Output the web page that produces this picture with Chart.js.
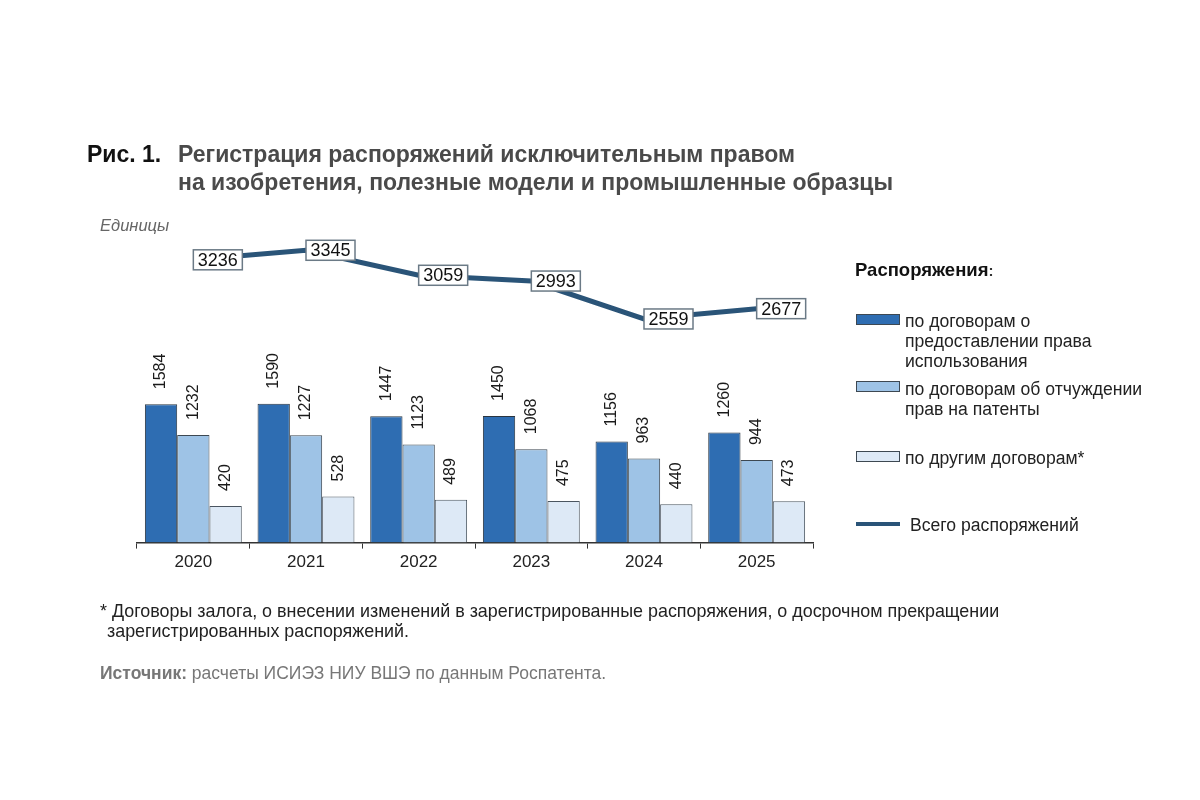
<!DOCTYPE html>
<html>
<head>
<meta charset="utf-8">
<script src="https://cdn.jsdelivr.net/npm/chart.js@4.4.1/dist/chart.umd.min.js"></script>
<style>
  body { margin:0; background:#fff; font-family:"Liberation Sans", Arial, sans-serif; }
  #wrap { position:relative; width:1200px; height:800px; overflow:hidden; }
  #myChart { position:absolute; left:0; top:0; }
  .t { position:absolute; white-space:nowrap; }
  .title { font-weight:bold; font-size:23px; color:#4a4a4a; }
  .sw { position:absolute; width:42px; height:9px; border:1px solid #3d4852; }
  .leg { position:absolute; font-size:17.6px; color:#222; line-height:20px; white-space:nowrap; }
</style>
</head>
<body>
<div id="wrap">
  <canvas id="myChart" width="1200" height="800"></canvas>

  <div class="t title" style="left:87px;top:141px;color:#111;">Рис. 1.</div>
  <div class="t title" style="left:178px;top:141px;">Регистрация распоряжений исключительным правом</div>
  <div class="t title" style="left:178px;top:169px;">на изобретения, полезные модели и промышленные образцы</div>
  <div class="t" style="left:100px;top:216px;font-size:16.5px;font-style:italic;color:#666;">Единицы</div>

  <div class="t" style="left:855px;top:259px;font-size:18.5px;font-weight:bold;color:#111;">Распоряжения<span style="font-size:15px;color:#333;">:</span></div>
  <div class="sw" style="left:856px;top:314px;background:#2e6db2;"></div>
  <div class="leg" style="left:905px;top:311px;">по договорам о<br>предоставлении права<br>использования</div>
  <div class="sw" style="left:856px;top:381px;background:#9ec3e6;"></div>
  <div class="leg" style="left:905px;top:379px;">по договорам об отчуждении<br>прав на патенты</div>
  <div class="sw" style="left:856px;top:451px;background:#dde9f6;"></div>
  <div class="leg" style="left:905px;top:448px;">по другим договорам*</div>
  <div style="position:absolute;left:856px;top:522px;width:44px;height:4px;background:#2a5478;"></div>
  <div class="leg" style="left:910px;top:515px;">Всего распоряжений</div>

  <div class="t" style="left:100px;top:601px;font-size:17.9px;color:#222;">* Договоры залога, о внесении изменений в зарегистрированные распоряжения, о досрочном прекращении</div>
  <div class="t" style="left:107px;top:621px;font-size:17.9px;color:#222;">зарегистрированных распоряжений.</div>
  <div class="t" style="left:100px;top:663px;font-size:17.5px;color:#777;"><b>Источник:</b> расчеты ИСИЭЗ НИУ ВШЭ по данным Роспатента.</div>
</div>
<script>
var years = ['2020', '2021', '2022', '2023', '2024', '2025'];
var useRights = [1584, 1590, 1447, 1450, 1156, 1260];
var patentSale = [1232, 1227, 1123, 1068, 963, 944];
var otherDeals = [420, 528, 489, 475, 440, 473];
var totalDeals = [3236, 3345, 3059, 2993, 2559, 2677];

// подписи над столбцами (повернутые) и рамки у линии
var labelsPlugin = {
	id: 'labelsPlugin',
	afterDatasetsDraw: function(chart) {
		var ctx = chart.ctx;
		ctx.save();
		for (var d = 0; d < 3; d++) {
			var meta = chart.getDatasetMeta(d);
			meta.data.forEach(function(bar, i) {
				ctx.save();
				ctx.translate(bar.x, bar.y - 15);
				ctx.rotate(-Math.PI / 2);
				ctx.font = '16px "Liberation Sans", Arial, sans-serif';
				ctx.fillStyle = '#1a1a1a';
				ctx.textAlign = 'left';
				ctx.textBaseline = 'middle';
				ctx.fillText(String(chart.data.datasets[d].data[i]), 0, 0);
				ctx.restore();
			});
		}
		var lm = chart.getDatasetMeta(3);
		lm.data.forEach(function(pt, i) {
			var txt = String(totalDeals[i]);
			var x = pt.x, y = pt.y;
			ctx.fillStyle = '#fff';
			ctx.fillRect(x, y - 10, 49, 20);
			ctx.strokeStyle = '#6b7a86';
			ctx.lineWidth = 1.5;
			ctx.strokeRect(x, y - 10, 49, 20);
			ctx.font = '18px "Liberation Sans", Arial, sans-serif';
			ctx.fillStyle = '#111';
			ctx.textAlign = 'center';
			ctx.textBaseline = 'middle';
			ctx.fillText(txt, x + 24.5, y + 1);
		});
		ctx.restore();
	}
};

var myChart = document.getElementById('myChart').getContext('2d');
var chart = new Chart(myChart, {
	type: 'bar',
	data: {
		labels: years,
		datasets: [
			{
				label: 'по договорам о предоставлении права использования',
				data: useRights,
				backgroundColor: '#2e6db2',
				borderColor: '#2a3540',
				borderWidth: 1
			},
			{
				label: 'по договорам об отчуждении прав на патенты',
				data: patentSale,
				backgroundColor: '#9ec3e6',
				borderColor: '#3d4852',
				borderWidth: 1
			},
			{
				label: 'по другим договорам*',
				data: otherDeals,
				backgroundColor: '#dde9f6',
				borderColor: '#4a5560',
				borderWidth: 1
			},
			{
				type: 'line',
				label: 'Всего распоряжений',
				data: totalDeals,
				borderColor: '#2a5478',
				borderWidth: 5,
				pointRadius: 0,
				tension: 0,
				fill: false
			}
		]
	},
	plugins: [labelsPlugin],
	options: {
		responsive: false,
		animation: false,
		devicePixelRatio: 1,
		layout: { padding: { left: 137, right: 387, top: 228, bottom: 223 } },
		plugins: { legend: { display: false }, tooltip: { enabled: false } },
		datasets: { bar: { categoryPercentage: 0.86, barPercentage: 1.0 } },
		scales: {
			x: {
				grid: { display: true, drawOnChartArea: false, drawTicks: true, tickLength: 6, color: '#333', offset: true },
				border: { display: true, color: '#333', width: 1.5 },
				ticks: { color: '#222', font: { size: 17, family: '"Liberation Sans", Arial, sans-serif' }, padding: 4 }
			},
			y: {
				display: false,
				min: 0,
				max: 3600
			}
		}
	}
});
</script>
</body>
</html>
